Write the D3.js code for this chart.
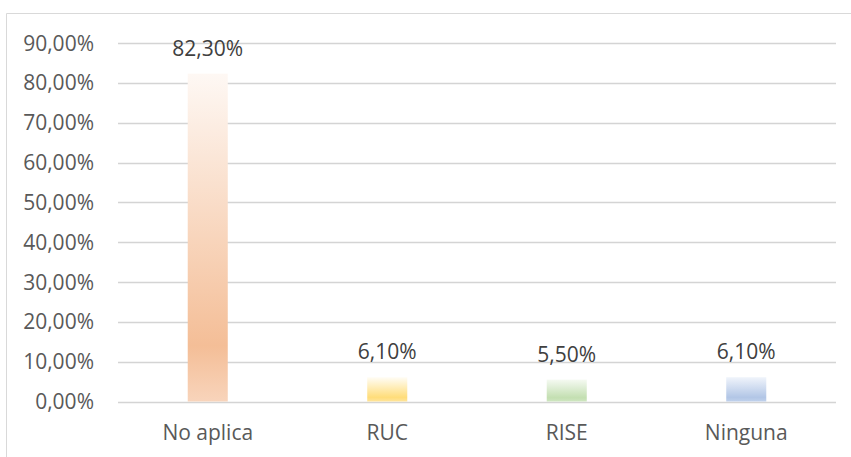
<!DOCTYPE html>
<html><head><meta charset="utf-8">
<script src="https://cdn.jsdelivr.net/npm/d3@7"></script>
<style>body{margin:0;background:#fff;}svg{display:block;font-family:"Open Sans",sans-serif;}</style>
</head><body>
<svg id="c" width="851" height="457"></svg>
<script>
const categories = ["No aplica", "RUC", "RISE", "Ninguna"];
const values = [0.823, 0.061, 0.055, 0.061];
const tickValues = [0, 0.1, 0.2, 0.3, 0.4, 0.5, 0.6, 0.7, 0.8, 0.9];
const colorsTop = ["#FEF8F4", "#FFFDF6", "#F5FAF2", "#F0F4FB"];
const colorsMid = ["#F4BE97", "#FFDD7A", "#C3DFB1", "#B2C6E6"];
const colorsBot = ["#F8D4BB", "#FFE49A", "#CFE6C1", "#C0D1EC"];

const loc = d3.formatLocale({decimal: ",", thousands: ".", grouping: [3], currency: ["", ""]});
const fmt = loc.format(".2%");

const svg = d3.select("#c");
// chart border
svg.append("path").attr("d", "M6.5,457 L6.5,13.5 L851,13.5").attr("fill", "none").attr("stroke", "#D9D9D9").attr("stroke-width", 1);

const x = d3.scaleBand().domain(categories).range([118, 836]).paddingInner(0.777).paddingOuter(0.3885);
const y = d3.scaleLinear().domain([0, 0.9]).range([401.5, 43]);

const defs = svg.append("defs");
categories.forEach((c, i) => {
  const g = defs.append("linearGradient").attr("id", "g" + i).attr("x1", 0).attr("y1", 0).attr("x2", 0).attr("y2", 1);
  g.append("stop").attr("offset", "0%").attr("stop-color", colorsTop[i]);
  g.append("stop").attr("offset", "83%").attr("stop-color", colorsMid[i]);
  g.append("stop").attr("offset", "100%").attr("stop-color", colorsBot[i]);
});

// gridlines
svg.append("g").selectAll("line").data(tickValues).join("line")
  .attr("x1", 118).attr("x2", 836)
  .attr("y1", d => Math.round(y(d)) + 0.5).attr("y2", d => Math.round(y(d)) + 0.5)
  .attr("stroke", "#D4D4D4").attr("stroke-width", 1.5);

// y tick labels
svg.append("g").selectAll("text").data(tickValues).join("text")
  .attr("x", 94).attr("y", d => y(d) + 7.5)
  .attr("text-anchor", "end").attr("font-size", 21).attr("fill", "#595959")
  .text(d => fmt(d));

// bars
svg.append("g").selectAll("rect").data(values).join("rect")
  .attr("x", (d, i) => x(categories[i]))
  .attr("width", x.bandwidth())
  .attr("y", d => y(d))
  .attr("height", d => y(0) - y(d))
  .attr("fill", (d, i) => "url(#g" + i + ")");

// data labels
svg.append("g").selectAll("text").data(values).join("text")
  .attr("x", (d, i) => x(categories[i]) + x.bandwidth() / 2)
  .attr("y", d => y(d) - 18)
  .attr("text-anchor", "middle").attr("font-size", 21).attr("fill", "#404040")
  .text(d => fmt(d));

// category labels
svg.append("g").selectAll("text").data(categories).join("text")
  .attr("x", d => x(d) + x.bandwidth() / 2)
  .attr("y", 440)
  .attr("text-anchor", "middle").attr("font-size", 21).attr("fill", "#595959")
  .text(d => d);
</script>
</body></html>
